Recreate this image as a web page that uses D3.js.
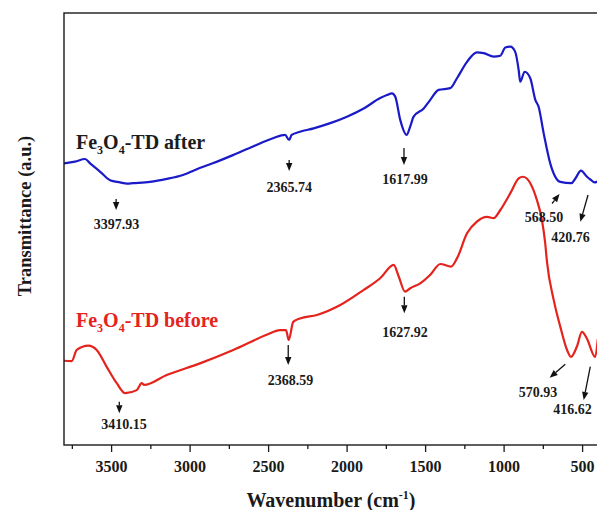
<!DOCTYPE html>
<html>
<head>
<meta charset="utf-8">
<script src="https://cdn.jsdelivr.net/npm/d3@7/dist/d3.min.js"></script>
<style>
  body { margin: 0; background: #fff; }
  text { font-family: "Liberation Serif", "Times New Roman", serif; font-weight: bold; }
</style>
</head>
<body>
<svg id="chart" width="597" height="510"></svg>
<script>
// FTIR spectra: [wavenumber (cm^-1), transmittance (a.u., offset)]
const afterSpectrum = [
  [3800,65.2],[3730,65.6],[3666,66.2],[3634,65.2],[3571,63.3],[3507,61.3],[3443,60.8],
  [3397.93,60.5],[3361,60.6],[3252,60.9],[3144,61.6],[3042,62.5],[2936,64.1],[2853,65.2],
  [2724,67.1],[2596,69.1],[2469,71.0],[2392,71.8],[2365.74,70.6],[2350,71.8],[2297,72.5],
  [2210,73.3],[2104,74.5],[1998,76.0],[1891,77.9],[1786,80.3],[1743,81.0],[1711,81.4],
  [1690,80.6],[1658,75.2],[1617.99,71.8],[1595,73.7],[1573,76.0],[1509,77.9],[1467,79.9],
  [1414,82.2],[1340,82.6],[1297,84.9],[1233,88.7],[1170,90.9],[1127,90.7],[1063,89.9],
  [1021,90.1],[989,92.0],[957,92.2],[926,91.0],[904,86.8],[894,84.1],[866,86.4],[830,84.9],
  [798,79.9],[777,78.3],[745,72.2],[703,65.2],[639,60.9],[568.50,60.6],[543,61.7],[507,63.5],
  [469,62.1],[445,61.4],[420.76,60.8],[400,61.0]
];

const beforeSpectrum = [
  [3800,19.5],[3751,19.4],[3719,22.0],[3645,23.0],[3592,22.0],[3528,18.1],[3464,14.3],
  [3410.15,12.0],[3337,12.7],[3305,14.3],[3290,13.9],[3146,16.2],[2934,18.9],[2722,22.0],
  [2509,25.5],[2424,26.6],[2386,26.6],[2368.59,24.3],[2340,28.5],[2297,29.3],[2189,30.1],
  [2040,32.4],[1891,35.9],[1786,38.6],[1700,41.7],[1668,39.0],[1627.92,35.5],[1594,36.3],
  [1531,37.4],[1467,39.4],[1403,41.9],[1335,41.3],[1297,43.2],[1233,49.0],[1170,51.7],
  [1106,52.8],[1063,52.5],[1021,54.4],[957,58.3],[904,61.7],[877,62.1],[830,60.6],[788,56.7],
  [756,52.1],[735,46.7],[724,42.5],[681,33.6],[639,27.4],[596,22.0],[570.93,20.4],[533,22.8],
  [501,26.2],[469,24.6],[416.62,20.4],[400,24.5]
];

// Labelled band positions (cm^-1)
const afterPeaks = [3397.93, 2365.74, 1617.99, 568.50, 420.76];
const beforePeaks = [3410.15, 2368.59, 1627.92, 570.93, 416.62];

// Axis ticks
const majorTicks = [3500, 3000, 2500, 2000, 1500, 1000, 500];
const minorTicks = [3750, 3250, 2750, 2250, 1750, 1250, 750];

// Arrow / label placement relative to each band point, in pixels:
// arrow [dx1, dy1, dx2, dy2] (head at the second point), text [dx, dy]
const afterLayout = [
  { arrow: [-11, 15.4, -11, 26.4], text: [-10.6, 45.4] },
  { arrow: [0, 20, 0, 31], text: [0, 52] },
  { arrow: [-2.6, 13.2, -2.6, 30.2], text: [-1.6, 49.2] },
  { arrow: [-19.3, 20.3, -11.8, 10.8], text: [-27.3, 38.8] },
  { arrow: [-6.5, 12.7, -14.2, 39.4], text: [-24, 59.7] }
];
const beforeLayout = [
  { arrow: [-5.9, 8.5, -5.9, 20.1], text: [-1.2, 35.8] },
  { arrow: [-0.5, 5, -0.5, 25], text: [1.8, 45] },
  { arrow: [-0.7, 5.1, -0.7, 21.7], text: [0, 45.4] },
  { arrow: [-5.7, 7.4, -21.3, 20.8], text: [-33, 39.8] },
  { arrow: [-4.9, 9.8, -11.5, 43.1], text: [-22.7, 57.1] }
];

const blue = "#1a1ac8";
const red = "#e4231d";

const svg = d3.select("#chart");
const margin = { left: 64, top: 13, right: 597.8, bottom: 445 };

const x = d3.scaleLinear().domain([3800, 400]).range([margin.left, margin.right]);
const y = d3.scaleLinear().domain([0, 100]).range([margin.bottom, margin.top]);

svg.append("defs").append("clipPath").attr("id", "plot-clip")
  .append("rect").attr("x", margin.left).attr("y", margin.top)
  .attr("width", margin.right - margin.left).attr("height", margin.bottom - margin.top);

// Spectra
const line = d3.line()
  .x(d => x(d[0]))
  .y(d => y(d[1]))
  .curve(d3.curveMonotoneX);

const plot = svg.append("g").attr("clip-path", "url(#plot-clip)");
plot.append("path").datum(afterSpectrum)
  .attr("d", line).attr("fill", "none").attr("stroke", blue)
  .attr("stroke-width", 2.2).attr("stroke-linejoin", "round");
plot.append("path").datum(beforeSpectrum)
  .attr("d", line).attr("fill", "none").attr("stroke", red)
  .attr("stroke-width", 2.2).attr("stroke-linejoin", "round");

// Frame
svg.append("rect")
  .attr("x", margin.left).attr("y", margin.top)
  .attr("width", margin.right - margin.left).attr("height", margin.bottom - margin.top)
  .attr("fill", "none").attr("stroke", "#1a1a1a").attr("stroke-width", 1.4);

// Bottom axis: minor then major ticks
const minorAxis = d3.axisBottom(x).tickValues(minorTicks).tickSize(4).tickFormat("");
const majorAxis = d3.axisBottom(x).tickValues(majorTicks).tickSize(7).tickPadding(9)
  .tickFormat(d3.format("d"));

const gMinor = svg.append("g").attr("transform", `translate(0,${margin.bottom})`).call(minorAxis);
const gMajor = svg.append("g").attr("transform", `translate(0,${margin.bottom})`).call(majorAxis);
[gMinor, gMajor].forEach(g => {
  g.select(".domain").remove();
  g.selectAll(".tick line").attr("stroke", "#1a1a1a").attr("stroke-width", 1.3);
});
gMajor.selectAll(".tick text")
  .attr("fill", "#1a1a1a")
  .style("font-size", "16px")
  .style("font-family", "'Liberation Serif', 'Times New Roman', serif")
  .style("font-weight", "bold");

// Axis titles
const xTitle = svg.append("text")
  .attr("x", 331).attr("y", 507)
  .attr("text-anchor", "middle")
  .attr("fill", "#1a1a1a")
  .style("font-size", "20px");
xTitle.append("tspan").text("Wavenumber (cm");
xTitle.append("tspan").attr("dy", -8).style("font-size", "12px").text("-1");
xTitle.append("tspan").attr("dy", 8).text(")");

svg.append("text")
  .attr("transform", "translate(31,216) rotate(-90)")
  .attr("text-anchor", "middle")
  .attr("fill", "#1a1a1a")
  .style("font-size", "18.5px")
  .text("Transmittance (a.u.)");

// Series labels with subscripted formula
function seriesLabel(px, py, suffix, color) {
  const t = svg.append("text").attr("x", px).attr("y", py)
    .attr("fill", color).style("font-size", "20px");
  t.append("tspan").text("Fe");
  t.append("tspan").attr("dy", 5).style("font-size", "12px").text("3");
  t.append("tspan").attr("dy", -5).text("O");
  t.append("tspan").attr("dy", 5).style("font-size", "12px").text("4");
  t.append("tspan").attr("dy", -5).text("-TD " + suffix);
}
seriesLabel(76, 149, "after", "#1c1c1c");
seriesLabel(76, 327, "before", red);

// Band annotations
function annotate(spectrum, peaks, layout) {
  peaks.forEach((p, i) => {
    const pt = spectrum.find(d => d[0] === p);
    const px = x(pt[0]), py = y(pt[1]);
    const L = layout[i];
    const [dx1, dy1, dx2, dy2] = L.arrow;
    const x1 = px + dx1, y1 = py + dy1, x2 = px + dx2, y2 = py + dy2;
    // arrowhead sits at (x2,y2), pointing away from (x1,y1)
    const ang = Math.atan2(y2 - y1, x2 - x1);
    const headLen = 8, headHalf = 3.2;
    const bx = x2 - headLen * Math.cos(ang), by = y2 - headLen * Math.sin(ang);
    svg.append("line")
      .attr("x1", x1).attr("y1", y1).attr("x2", bx).attr("y2", by)
      .attr("stroke", "#111").attr("stroke-width", 1.3);
    const nx = -Math.sin(ang), ny = Math.cos(ang);
    svg.append("polygon")
      .attr("points", [
        [x2, y2],
        [bx + nx * headHalf, by + ny * headHalf],
        [bx - nx * headHalf, by - ny * headHalf]
      ].map(q => q.join(",")).join(" "))
      .attr("fill", "#111");
    svg.append("text")
      .attr("x", px + L.text[0]).attr("y", py + L.text[1])
      .attr("text-anchor", "middle")
      .attr("fill", "#1a1a1a")
      .style("font-size", "14px")
      .text(p.toFixed(2));
  });
}
annotate(afterSpectrum, afterPeaks, afterLayout);
annotate(beforeSpectrum, beforePeaks, beforeLayout);
</script>
</body>
</html>
